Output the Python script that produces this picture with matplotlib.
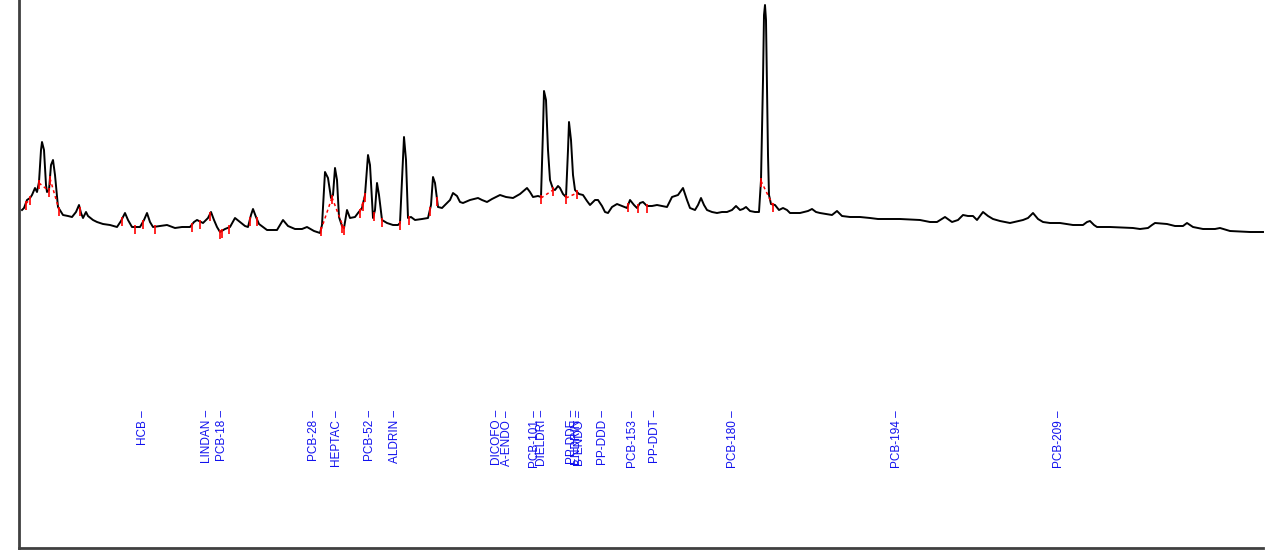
import numpy as np
import matplotlib.pyplot as plt

# chromatogram trace (scan number, detector signal)
scan = [3, 5, 8, 11, 13, 16, 18, 20, 22, 23, 25, 27, 28, 30, 32, 34, 36, 39, 44, 49,
        53, 57, 60, 62, 64, 67, 69, 74, 78, 84, 91, 98, 102, 106, 109, 113, 121, 125, 128, 131,
        134, 141, 148, 156, 163, 171, 175, 178, 184, 189, 192, 195, 198, 201, 206, 211, 216, 221, 226, 229,
        232, 234, 237, 240, 248, 258, 264, 269, 276, 283, 288, 295, 301, 303, 306, 309, 312, 314, 316, 318,
        320, 323, 325, 328, 331, 336, 339, 343, 346, 349, 351, 354, 356, 358, 360, 363, 368, 374, 379, 381,
        383, 385, 387, 389, 392, 396, 403, 409, 412, 414, 416, 419, 423, 428, 431, 434, 438, 441, 444, 451,
        459, 463, 468, 473, 481, 487, 494, 501, 508, 511, 514, 519, 522, 524, 525, 527, 529, 531, 534, 536,
        539, 541, 544, 547, 549, 550, 552, 554, 556, 560, 564, 568, 571, 576, 579, 583, 586, 589, 593, 598,
        603, 608, 611, 615, 618, 621, 624, 628, 633, 638, 643, 648, 653, 659, 664, 668, 671, 676, 679, 682,
        685, 688, 693, 698, 703, 708, 713, 717, 721, 724, 727, 731, 736, 740, 742, 744, 745, 746, 747, 748,
        749, 750, 752, 756, 760, 764, 768, 771, 781, 789, 793, 797, 801, 813, 818, 823, 831, 841, 851, 859,
        881, 901, 911, 918, 926, 933, 939, 944, 949, 954, 958, 964, 969, 974, 981, 991, 1004, 1009, 1014, 1019,
        1024, 1031, 1041, 1054, 1064, 1068, 1071, 1075, 1078, 1091, 1114, 1121, 1129, 1133, 1136, 1148, 1156, 1164, 1168, 1174,
        1184, 1196, 1201, 1211, 1231, 1244]
signal = [338, 340, 348, 350, 353, 360, 356, 366, 398, 406, 398, 363, 356, 358, 383, 388, 373, 341, 333, 332,
          331, 336, 343, 335, 330, 336, 332, 328, 326, 324, 323, 321, 327, 335, 328, 321, 321, 328, 335, 326,
          321, 322, 323, 320, 321, 321, 326, 328, 325, 330, 336, 328, 321, 316, 319, 321, 330, 326, 322, 321,
          333, 339, 331, 324, 318, 318, 328, 322, 319, 319, 321, 317, 315, 323, 376, 370, 350, 353, 380, 368,
          331, 322, 320, 338, 330, 331, 335, 340, 353, 393, 383, 330, 338, 365, 353, 328, 325, 323, 323, 325,
          368, 411, 388, 330, 331, 328, 329, 330, 343, 371, 365, 341, 340, 345, 348, 355, 352, 346, 345, 348,
          350, 348, 346, 349, 353, 351, 350, 354, 360, 356, 351, 352, 351, 418, 457, 448, 398, 368, 359, 358,
          362, 360, 354, 351, 398, 426, 408, 373, 358, 354, 353, 347, 343, 348, 348, 342, 336, 335, 341, 344,
          342, 340, 348, 343, 340, 345, 346, 342, 342, 343, 342, 341, 351, 353, 360, 348, 340, 338, 343, 350,
          343, 338, 336, 335, 336, 336, 338, 342, 338, 339, 341, 337, 336, 336, 368, 468, 533, 543, 528, 458,
          393, 353, 344, 343, 338, 340, 338, 335, 335, 337, 339, 336, 335, 333, 337, 332, 331, 331, 330, 329,
          329, 328, 326, 326, 331, 326, 328, 333, 332, 332, 328, 336, 332, 329, 327, 325, 328, 330, 335, 329,
          326, 325, 325, 323, 323, 326, 327, 323, 321, 321, 320, 319, 320, 323, 325, 324, 322, 322, 325, 321,
          319, 319, 320, 317, 316, 316]

# integration marks (peak start / end)
marks = [7, 11, 20, 30, 31, 40, 61, 103, 116, 124, 136, 173, 181, 191, 201, 203, 210, 231, 238, 302,
         313, 323, 325, 341, 344, 346, 355, 363, 381, 390, 411, 418, 522, 534, 547, 558, 609, 619, 628, 742, 754]
baselines = [(7, 11), (20, 30), (31, 40), (302, 313), (313, 325), (341, 346), (522, 534), (547, 558), (742, 754)]

# compound names and their retention (scan)
names = ["HCB", "LINDAN", "PCB-18", "PCB-28", "HEPTAC", "PCB-52", "ALDRIN", "DICOFO", "A-ENDO",
         "PCB-101", "DIELDRI", "PP-DDE", "ENDRIN", "B-ENDO", "PP-DDD", "PCB-153", "PP-DDT",
         "PCB-180", "PCB-194", "PCB-209"]
retention = [124, 188, 203, 295, 318, 351, 376, 478, 488, 516, 523, 553, 558, 561, 584, 614, 636,
             714, 878, 1040]

fig = plt.figure(figsize=(12.73, 5.56), dpi=100)
ax = fig.add_axes([19 / 1273, 8 / 556, 1254 / 1273, 548 / 556])

ax.plot(scan, signal, color='black', lw=1.4)

mark_y = np.interp(marks, scan, signal)
ax.vlines(marks, mark_y - 7, mark_y + 2, color='red', lw=1.2)
for a, b in baselines:
    ya, yb = np.interp([a, b], scan, signal)
    ax.plot([a, b], [ya - 1, yb - 1], color='red', lw=1.1, ls=(0, (2, 2)))

for name, rt in zip(names, retention):
    ax.text(rt, 138, name + " \u2013", rotation=90, ha='center', va='top',
            color='#1010ee', fontsize=8.5, family='Liberation Sans')

ax.set_xlim(0, 1254)
ax.set_ylim(0, 548)
ax.set_xticks([])
ax.set_yticks([])
for side in ['top', 'right']:
    ax.spines[side].set_visible(False)
for side in ['left', 'bottom']:
    ax.spines[side].set_color('#404040')
    ax.spines[side].set_linewidth(2)
ax.spines['bottom'].set_bounds(0, 1244)

fig.savefig('out.png', dpi=100)
